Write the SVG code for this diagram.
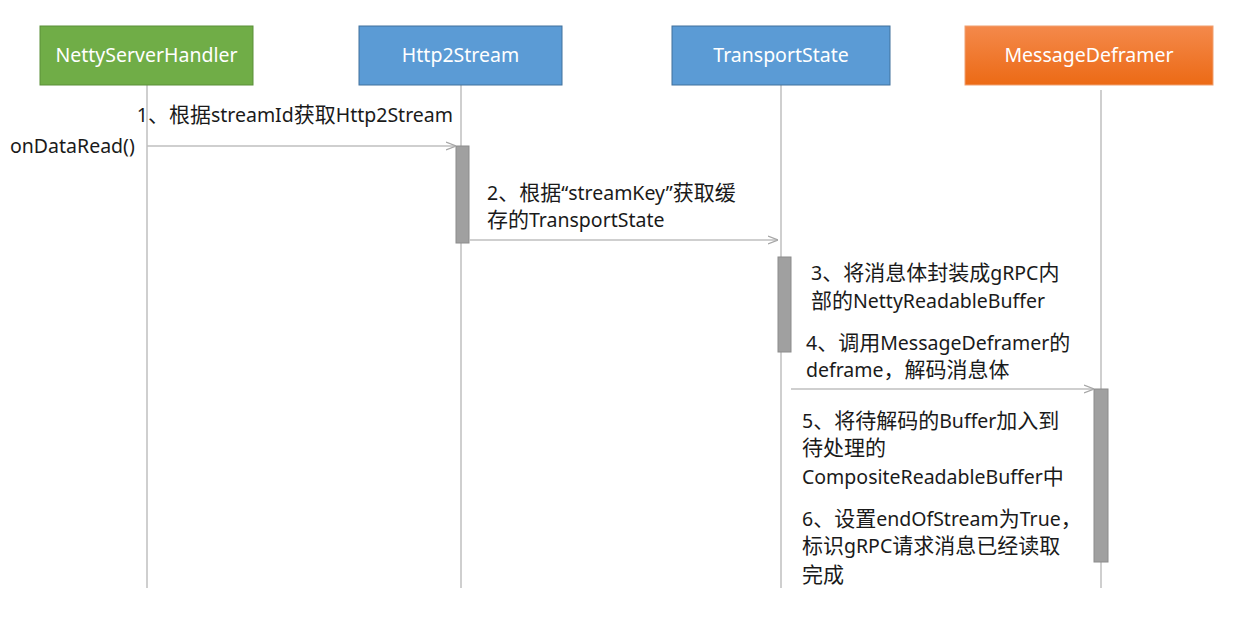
<svg xmlns="http://www.w3.org/2000/svg" width="1236" height="619" viewBox="0 0 1236 619">
<defs>
<linearGradient id="og" x1="0" y1="0" x2="0" y2="1">
<stop offset="0" stop-color="#F4894B"/>
<stop offset="1" stop-color="#EC6A15"/>
</linearGradient>
<marker id="ah" viewBox="0 0 10 10" refX="10" refY="5" markerWidth="10" markerHeight="10" markerUnits="userSpaceOnUse" orient="auto">
<path d="M0,1 L10,5 L0,9" fill="none" stroke="#A6A6A6" stroke-width="1.2"/>
</marker>
<style>
.hd{font-family:"Noto Sans","Noto Sans CJK SC",sans-serif;font-size:19.5px;fill:#FFFFFF;text-anchor:middle}
.t{font-family:"Noto Sans","Noto Sans CJK SC",sans-serif;font-size:19.5px;fill:#1A1A1A}
.c{font-size:21px}
.life{stroke:#BFBFBF;stroke-width:1.5;fill:none}
.msg{stroke:#BFBFBF;stroke-width:1.5;fill:none;marker-end:url(#ah)}
.act{fill:#A0A0A0;stroke:#8C8C8C;stroke-width:1}
</style>
</defs>
<rect width="1236" height="619" fill="#FFFFFF"/>
<g id="lifelines">
<line class="life" x1="147" y1="85" x2="147" y2="588"/>
<line class="life" x1="461" y1="85" x2="461" y2="588"/>
<line class="life" x1="781" y1="85" x2="781" y2="588"/>
<line class="life" x1="1101" y1="90" x2="1101" y2="588"/>
</g>
<g id="NettyServerHandler">
<rect x="40" y="26" width="213" height="59" fill="#70AD47" stroke="#5A8F38" stroke-width="1"/>
<text class="hd" x="146.5" y="62">NettyServerHandler</text>
</g>
<g id="Http2Stream">
<rect x="359" y="26" width="203" height="59" fill="#5B9BD5" stroke="#41719C" stroke-width="1"/>
<text class="hd" x="460.5" y="62">Http2Stream</text>
</g>
<g id="TransportState">
<rect x="672" y="26" width="218" height="59" fill="#5B9BD5" stroke="#41719C" stroke-width="1"/>
<text class="hd" x="781" y="62">TransportState</text>
</g>
<g id="MessageDeframer">
<rect x="965" y="26" width="248" height="59" fill="url(#og)" stroke="#F0A070" stroke-width="1"/>
<text class="hd" x="1089" y="62">MessageDeframer</text>
</g>
<g id="activations">
<rect class="act" x="456" y="146" width="13" height="97"/>
<rect class="act" x="778" y="257" width="13" height="95"/>
<rect class="act" x="1094" y="389" width="14" height="173"/>
</g>
<g id="connectors">
<line class="msg" x1="147" y1="146" x2="456" y2="146"/>
<line class="msg" x1="469" y1="240" x2="778" y2="240"/>
<line class="msg" x1="791" y1="389" x2="1094" y2="389"/>
</g>
<g id="labels">
<text class="t" x="453" y="122" text-anchor="end">1<tspan class="c">、根据</tspan>streamId<tspan class="c">获取</tspan>Http2Stream</text>
<text class="t" x="10" y="153">onDataRead()</text>
<text class="t" x="487" y="200">2<tspan class="c">、根据</tspan>“streamKey”<tspan class="c">获取缓</tspan></text>
<text class="t" x="487" y="227"><tspan class="c">存的</tspan>TransportState</text>
<text class="t" x="811" y="280">3<tspan class="c">、将消息体封装成</tspan>gRPC<tspan class="c">内</tspan></text>
<text class="t" x="811" y="308"><tspan class="c">部的</tspan>NettyReadableBuffer</text>
<text class="t" x="806" y="350">4<tspan class="c">、调用</tspan>MessageDeframer<tspan class="c">的</tspan></text>
<text class="t" x="806" y="377">deframe<tspan class="c">，解码消息体</tspan></text>
<text class="t" x="802" y="428">5<tspan class="c">、将待解码的</tspan>Buffer<tspan class="c">加入到</tspan></text>
<text class="t" x="802" y="455"><tspan class="c">待处理的</tspan></text>
<text class="t" x="802" y="484">CompositeReadableBuffer<tspan class="c">中</tspan></text>
<text class="t" x="802" y="526">6<tspan class="c">、设置</tspan>endOfStream<tspan class="c">为</tspan>True<tspan class="c">，</tspan></text>
<text class="t" x="802" y="553"><tspan class="c">标识</tspan>gRPC<tspan class="c">请求消息已经读取</tspan></text>
<text class="t" x="802" y="582"><tspan class="c">完成</tspan></text>
</g>
</svg>
